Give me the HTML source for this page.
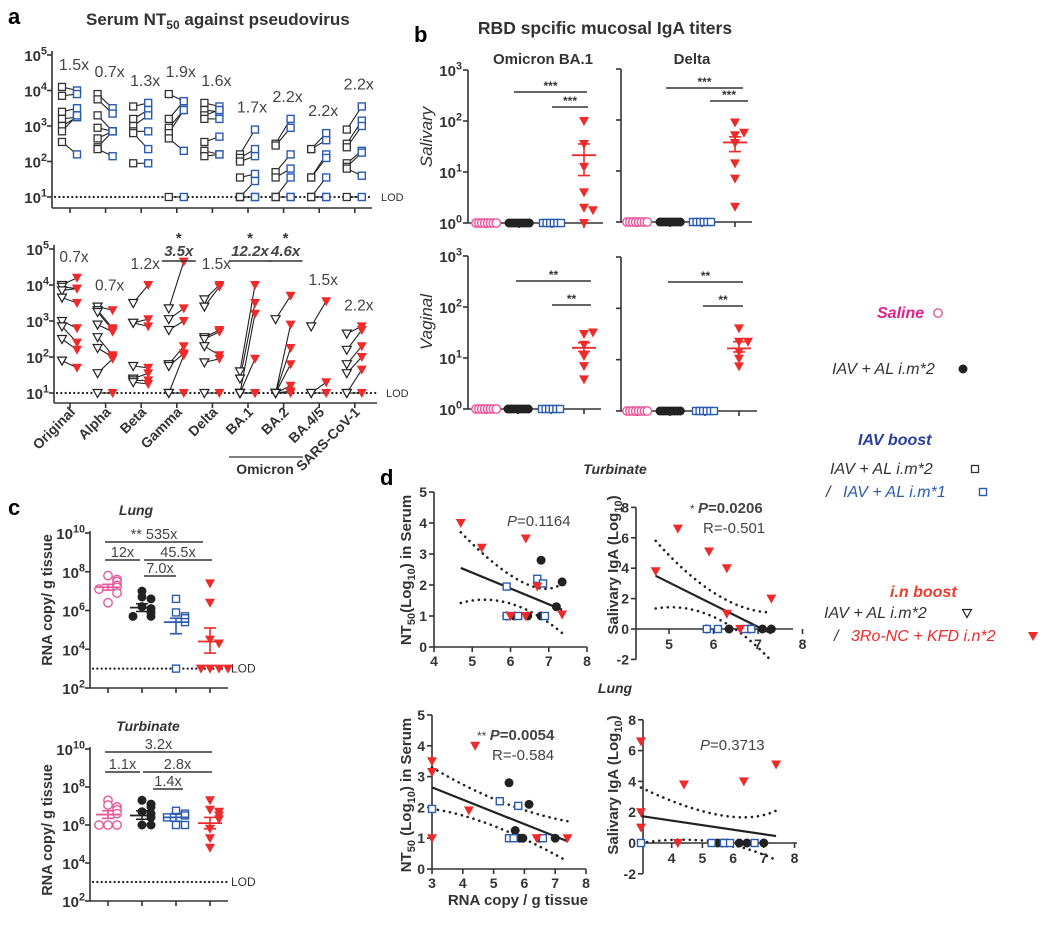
<!DOCTYPE html>
<html><head><meta charset="utf-8"><style>
html,body{margin:0;padding:0;background:#fff;}
svg{display:block;font-family:"Liberation Sans",sans-serif;}
</style></head><body>
<svg id="fig" width="1044" height="950" viewBox="0 0 1044 950" xmlns="http://www.w3.org/2000/svg">
<rect width="1044" height="950" fill="#fff"/>
</svg>
<script>
// ---------- DATA (log10 values) ----------
const aGroups = ['Original','Alpha','Beta','Gamma','Delta','BA.1','BA.2','BA.4/5','SARS-CoV-1'];
const aTopFold = ['1.5x','0.7x','1.3x','1.9x','1.6x','1.7x','2.2x','2.2x','2.2x'];
const aTopPre = [[4.1,3.85,3.4,3.2,3.0,2.85,2.55],[3.9,3.75,3.3,2.95,2.65,2.4,2.35],[3.55,3.2,3.0,2.85,2.8,1.95],[3.9,3.2,2.95,2.8,2.65,1],[3.65,3.45,3.3,3.2,2.55,2.3,2.15],[2.2,2.1,2.0,1.55,1,1,1],[2.5,2.45,1.7,1.55,1,1,1],[2.35,2.35,1.55,1.55,1,1,1],[2.9,2.5,2.4,1.95,1.85,1.8,1]];
const aTopPost = [[4.0,3.9,3.5,3.25,3.25,3.3,2.2],[3.5,3.35,2.85,2.85,2.85,2.85,2.15],[3.65,3.45,3.3,2.85,2.35,1.95],[3.7,3.7,3.45,3.45,2.3,1],[3.55,3.4,3.45,3.2,2.7,2.2,2.2],[2.9,2.35,2.15,1.65,1.45,1,1],[3.2,2.95,2.2,1.8,1.55,1,1],[2.8,2.6,2.2,2.1,1.55,1,1],[3.55,3.15,3.0,2.3,2.25,1.6,1]];
const aBotFold = ['0.7x','0.7x','1.2x','3.5x','1.5x','12.2x','4.6x','1.5x','2.2x'];
const aBotSig = [0,0,0,1,0,1,1,0,0];
const aBotPre = [[4.0,3.95,3.85,3.65,3.0,2.85,2.5,1.9],[3.4,3.3,3.25,2.9,2.55,2.25,1.55,1],[3.5,2.95,2.95,1.75,1.4,1.35,1.3],[3.35,3.05,2.75,1.8,1.75,1,1],[3.6,3.4,2.55,2.5,2.3,1.85,1],[1.6,1.4,1,1,1,1,1],[3.05,1,1,1,1,1,1],[2.85,1,1],[2.65,2.2,1.8,1.55,1,1]];
const aBotPost = [[4.2,3.9,3.9,3.5,2.8,2.4,2.2,1.7],[3.3,2.8,2.75,2.7,2.05,2.0,1.95,1],[4.0,3.05,2.85,1.7,1.55,1.35,1.25],[4.65,3.35,3.0,2.3,2.1,2.05,1],[4.0,3.95,2.75,2.7,2.05,1.95,1],[4.0,3.5,3.2,1.95,1,1,1],[3.7,2.9,2.25,1.8,1.2,1.05,1],[3.55,1.3,1],[2.85,2.75,2.3,2.0,1.65,1]];

const bSalBA1 = [2.0,1.55,1.1,0.6,0.3,0.25,0];
const bSalBA1Stats = [1.33,0.93,1.55];
const bSalDelta = [1.95,1.7,1.75,1.55,1.15,0.85,0.3];
const bSalDeltaStats = [1.56,1.38,1.67];
const bVagBA1 = [1.47,1.5,1.26,1.04,0.84,0.58];
const bVagBA1Stats = [1.2,1.13,1.3];
const bVagDelta = [1.61,1.35,1.35,1.16,1.02,0.87];
const bVagDeltaStats = [1.22,1.15,1.35];

const cLungPink = [7.8,7.6,7.5,7.3,7.2,7.1,6.9,6.4];
const cLungBlack = [7.0,6.7,6.6,6.2,6.1,5.9,5.7,5.7];
const cLungBlue = [6.6,5.9,5.7,5.6,5.4,3.0];
const cLungRed = [7.4,6.4,4.5,4.3,3,3,3,3];
const cLungStats = [[7.2,7.05,7.35],[6.15,5.95,6.35],[5.4,4.8,5.6],[4.4,3.8,5.1]];
const cTurbPink = [7.3,7.05,6.95,6.8,6.6,6.0,6.0,6.0];
const cTurbBlack = [7.3,7.1,6.95,6.7,6.6,6.4,6.0,6.0];
const cTurbBlue = [6.75,6.6,6.5,6.4,6.0,6.0];
const cTurbRed = [7.3,6.8,6.7,6.5,6.3,5.8,5.3,4.8];
const cTurbStats = [[6.55,6.35,6.75],[6.5,6.3,6.75],[6.4,6.2,6.6],[6.1,5.8,6.4]];

const dTurbSerumRed = [[4.7,4.0],[5.25,3.2],[6.4,3.5],[6.7,1.95],[7.35,1.05],[6.4,1.0],[6.0,1.0]];
const dTurbSerumBlack = [[6.8,2.8],[7.35,2.1],[7.2,1.3],[5.9,1.0],[6.1,1.0],[6.45,1.0],[6.8,1.0]];
const dTurbSerumBlue = [[5.9,1.95],[6.7,2.2],[6.85,2.05],[5.9,1.0],[6.2,1.0],[6.9,1.0]];
const dTurbSerumFit = [4.7,2.55,7.35,1.2];
const dTurbSerumCI = [[4.7,3.7],[6.3,2.1],[7.35,2.05],[4.7,1.42],[6.0,1.4],[7.35,0.45]];
const dTurbIgaRed = [[4.7,3.8],[5.2,6.6],[5.9,5.1],[6.3,4.0],[6.3,1.0],[6.6,0],[7.3,2.0]];
const dTurbIgaBlack = [[5.85,0],[6.35,0],[6.8,0],[7.1,0],[7.3,0]];
const dTurbIgaBlue = [[5.85,0],[6.1,0],[6.7,0],[6.85,0]];
const dTurbIgaFit = [4.7,3.5,7.3,-0.3];
const dTurbIgaCI = [[4.7,5.8],[6.0,2.4],[7.2,1.1],[4.7,1.35],[6.0,0.8],[7.3,-2.1]];
const dLungSerumRed = [[3,3.5],[3,3.15],[3,1.0],[4.4,4.0],[4.2,1.9],[6.4,1.0],[7.4,1.0]];
const dLungSerumBlack = [[5.5,2.8],[6.15,2.1],[5.7,1.25],[5.85,1.0],[5.95,1.0],[6.5,1.0],[7.0,1.0]];
const dLungSerumBlue = [[3,1.95],[5.2,2.2],[5.8,2.05],[5.5,1.0],[5.65,1.0],[6.6,1.0]];
const dLungSerumFit = [3,2.65,7.4,0.9];
const dLungSerumCI = [[3,3.3],[5.2,2.2],[7.4,1.55],[3,1.95],[5.0,1.4],[7.4,0.25]];
const dLungIgaRed = [[3,6.6],[3,2.0],[3,1.0],[4.4,3.8],[4.2,0],[6.35,4.0],[7.4,5.1]];
const dLungIgaBlack = [[5.5,0],[5.65,0],[5.8,0],[6.2,0],[6.45,0],[7.0,0]];
const dLungIgaBlue = [[3,0],[5.3,0],[5.7,0],[5.9,0],[6.7,0]];
const dLungIgaFit = [3,1.75,7.4,0.45];
const dLungIgaCI = [[3,3.6],[5.6,1.8],[7.4,2.1],[3,0],[5.3,0.1],[7.4,-1.1]];

// ---------- HELPERS ----------
const NS='http://www.w3.org/2000/svg';
const S=document.getElementById('fig');
const FF='"Liberation Sans", sans-serif';
const PINK='#e8579c', BLUE='#2a5bb0', RED='#ee2a2a', BLK='#222', GR='#333';
function add(tag, at, name){
  const e=document.createElementNS(NS,tag);
  for(const k in at) e.setAttribute(k,at[k]);
  
  
  S.appendChild(e); return e;
}
function line(x1,y1,x2,y2,name,st){return add('line',Object.assign({x1,y1,x2,y2,stroke:GR,'stroke-width':1.6},st||{}),name);}
function dotted(x1,y1,x2,y2,name){return line(x1,y1,x2,y2,name,{stroke:'#222','stroke-width':2.2,'stroke-dasharray':'0.1,4.2','stroke-linecap':'round'});}
function txt(x,y,s,name,st){const e=add('text',Object.assign({x,y,'font-family':FF,'font-size':13,fill:GR},st||{}),name);e.textContent=s;return e;}
function pow(x,y,b,p,name,fs){const t=add('text',{x,y,'text-anchor':'end','font-family':FF,'font-size':fs,'font-weight':'bold',fill:GR},name);t.innerHTML=b+'<tspan dy="-'+(fs*0.42)+'" font-size="'+(fs*0.72)+'">'+p+'</tspan>';return t;}
function mark(type,x,y,name){
  if(type==='sq') return add('rect',{x:x-3.5,y:y-3.5,width:7,height:7,fill:'#fff',stroke:'#333','stroke-width':1.3},name);
  if(type==='bsq') return add('rect',{x:x-3.5,y:y-3.5,width:7,height:7,fill:'#fff',stroke:BLUE,'stroke-width':1.4},name);
  if(type==='tri') return add('polygon',{points:`${x-4.5},${y-3.5} ${x+4.5},${y-3.5} ${x},${y+4.5}`,fill:'#fff',stroke:'#222','stroke-width':1.2},name);
  if(type==='ftri') return add('polygon',{points:`${x-5},${y-4} ${x+5},${y-4} ${x},${y+5}`,fill:RED},name);
  if(type==='oc') return add('circle',{cx:x,cy:y,r:4.2,fill:'#fff',stroke:PINK,'stroke-width':1.4},name);
  if(type==='fc') return add('circle',{cx:x,cy:y,r:4.5,fill:'#222'},name);
}
function jitter(vals,thr,step){
  return vals.map((v,i)=>{let c=0;for(let j=0;j<i;j++) if(Math.abs(vals[j]-v)<thr) c++;
    return c===0?0:(c%2?1:-1)*Math.ceil(c/2)*step;});
}
function errbar(x,Y,st,color,name,w){
  line(x-w,Y(st[0]),x+w,Y(st[0]),name+'-mean',{stroke:color,'stroke-width':1.8});
  line(x,Y(st[1]),x,Y(st[2]),name+'-err',{stroke:color,'stroke-width':1.6});
  line(x-6,Y(st[1]),x+6,Y(st[1]),name+'-err-lo',{stroke:color,'stroke-width':1.6});
  line(x-6,Y(st[2]),x+6,Y(st[2]),name+'-err-hi',{stroke:color,'stroke-width':1.6});
}

// ---------- PANEL A ----------
txt(8,24,'a','panel-a-label',{'font-size':22,'font-weight':'bold',fill:'#000'});
{const t=add('text',{x:86,y:25,'font-family':FF,'font-size':17,'font-weight':'bold',fill:GR},'panel-a-title');
 t.innerHTML='Serum NT<tspan dy="4" font-size="12">50</tspan><tspan dy="-4">  against pseudovirus</tspan>';}
const aX = g => 70 + g*35.6;
function aPanel(Y, axX, yTop, yBot, xEnd, pre, post, preT, postT, nm){
  line(axX,yTop-4,axX,yBot,nm+'-y-axis');
  line(axX,yBot,xEnd,yBot,nm+'-x-axis');
  for(let k=1;k<=5;k++){line(axX-5,Y(k),axX,Y(k),nm+'-y-tick');pow(axX-5,Y(k)+6,'10',k,nm+'-y-tick-label',15);}
  aGroups.forEach((g,i)=>line(aX(i),yBot,aX(i),yBot+5,nm+'-x-tick'));
  dotted(axX+3,Y(1),xEnd,Y(1),nm+'-lod-line');
  txt(xEnd+9,Y(1)+4,'LOD',nm+'-lod-label',{'font-size':11});
  pre.forEach((arr,i)=>{arr.forEach((v,j)=>{
    const x1=aX(i)-8,x2=aX(i)+7;
    line(x1,Y(v),x2,Y(post[i][j]),nm+'-pair-line',{stroke:'#222','stroke-width':1.1});
  });});
  pre.forEach((arr,i)=>{arr.forEach(v=>mark(preT,aX(i)-8,Y(v),nm+'-pre-point'));post[i].forEach(v=>mark(postT,aX(i)+7,Y(v),nm+'-post-point'));});
}
const YA1 = v => 197-(v-1)*35.5;
aPanel(YA1,52,55,208,372,aTopPre,aTopPost,'sq','bsq','panel-a-top');
aTopFold.forEach((f,i)=>{const m=Math.max(...aTopPre[i],...aTopPost[i]);
  txt(aX(i)+4,YA1(m)-17,f,'fold-label-top',{'text-anchor':'middle','font-size':16,fill:'#444'});});
const YA2 = v => 393-(v-1)*36;
aPanel(YA2,54,249,403,377,aBotPre,aBotPost,'tri','ftri','panel-a-bottom');
aBotFold.forEach((f,i)=>{const m=Math.max(...aBotPre[i],...aBotPost[i]);
  if(aBotSig[i]){
    const y=256; const w=f.length*8.5;
    txt(aX(i)+2,y,f,'fold-label-significant',{'text-anchor':'middle','font-size':15,'font-weight':'bold','font-style':'italic',fill:'#444'});
    line(aX(i)+2-w/2,y+5,aX(i)+2+w/2,y+5,'fold-underline',{'stroke-width':1.4});
    txt(aX(i)+2,y-13,'*','significance-star',{'text-anchor':'middle','font-size':15,'font-weight':'bold'});
  } else txt(aX(i)+4,YA2(m)-16,f,'fold-label-bottom',{'text-anchor':'middle','font-size':15.5,fill:'#444'});
});
aGroups.forEach((g,i)=>{const x=aX(i)+6,y=413;
  const t=txt(x,y,g,'x-label-'+g.toLowerCase().replace(/[^a-z0-9]+/g,'-'),{'text-anchor':'end','font-size':14,'font-weight':'bold'});
  t.setAttribute('transform',`rotate(-45 ${x} ${y})`);});
line(229,457,303,457,'omicron-bracket',{'stroke-width':1.3});
txt(265,474,'Omicron','omicron-label',{'text-anchor':'middle','font-size':14,'font-weight':'bold'});

// ---------- PANEL B ----------
txt(414,42,'b','panel-b-label',{'font-size':22,'font-weight':'bold',fill:'#000'});
txt(605,34,'RBD spcific mucosal IgA titers','panel-b-title',{'text-anchor':'middle','font-size':17.5,'font-weight':'bold'});
txt(543,64,'Omicron BA.1','col-title-ba1',{'text-anchor':'middle','font-size':15,'font-weight':'bold'});
txt(692,64,'Delta','col-title-delta',{'text-anchor':'middle','font-size':15,'font-weight':'bold'});
function bPanel(cfg, red, st, nm){
  const Y=v=>cfg.y0-(v)*(cfg.y0-cfg.y3)/3;
  line(cfg.ax,cfg.y3,cfg.ax,cfg.y0,nm+'-y-axis');
  line(cfg.ax,cfg.y0,cfg.xe,cfg.y0,nm+'-x-axis');
  for(let k=0;k<=3;k++){line(cfg.ax-5,Y(k),cfg.ax,Y(k),nm+'-y-tick'); if(cfg.labels) pow(cfg.ax-6,Y(k)+6,'10',k,nm+'-y-tick-label',15);}
  cfg.g.forEach(x=>line(x,cfg.y0,x,cfg.y0+5,nm+'-x-tick'));
  for(let i=0;i<8;i++){mark('oc',cfg.g[0]-10+i*2.9,Y(0),nm+'-saline-point');}
  for(let i=0;i<8;i++){mark('fc',cfg.g[1]-10+i*2.9,Y(0),nm+'-iav-point');}
  for(let i=0;i<6;i++){mark('bsq',cfg.g[2]-9+i*3.6,Y(0),nm+'-iav-boost-point');}
  const jt=jitter(red,0.12,9);
  red.forEach((v,i)=>mark('ftri',cfg.g[3]+jt[i],Y(v),nm+'-in-boost-point'));
  errbar(cfg.g[3],Y,st,RED,nm+'-in-boost',12);
  cfg.bars.forEach(b=>{line(b[0],b[2],b[1],b[2],nm+'-sig-bar',{'stroke-width':1.4});
    txt((b[0]+b[1])/2,b[2]-2,b[3],nm+'-sig-stars',{'text-anchor':'middle','font-size':12,'font-weight':'bold'});});
}
bPanel({ax:468,y3:70,y0:223,xe:603,g:[486,519,552,584],labels:1,bars:[[514,587,92,'***'],[552,588,107,'***']]},bSalBA1,bSalBA1Stats,'salivary-ba1');
bPanel({ax:621,y3:69,y0:222,xe:752,g:[637,670,702,735],labels:0,bars:[[666,743,88,'***'],[710,748,101,'***']]},bSalDelta,bSalDeltaStats,'salivary-delta');
bPanel({ax:468,y3:256,y0:409,xe:601,g:[486,518,551,584],labels:1,bars:[[516,591,281,'**'],[552,591,305,'**']]},bVagBA1,bVagBA1Stats,'vaginal-ba1');
bPanel({ax:621,y3:257,y0:411,xe:757,g:[637,670,705,739],labels:0,bars:[[668,743,282,'**'],[703,743,306,'**']]},bVagDelta,bVagDeltaStats,'vaginal-delta');
{const t=txt(432,137,'Salivary','y-label-salivary',{'text-anchor':'middle','font-size':17,'font-style':'italic'});t.setAttribute('transform','rotate(-90 432 137)');}
{const t=txt(432,322,'Vaginal','y-label-vaginal',{'text-anchor':'middle','font-size':17,'font-style':'italic'});t.setAttribute('transform','rotate(-90 432 322)');}

// ---------- PANEL C ----------
txt(8,515,'c','panel-c-label',{'font-size':22,'font-weight':'bold',fill:'#000'});
function cPanel(cfg, sets, stats, nm){
  const dec=(cfg.y2-cfg.y10)/8; const Y=v=>cfg.y2-(v-2)*dec;
  txt(cfg.tx,cfg.y10-18,cfg.title,nm+'-title',{'text-anchor':'middle','font-size':14,'font-weight':'bold','font-style':'italic'});
  line(90,cfg.y10-2,90,cfg.y2,nm+'-y-axis'); line(90,cfg.y2,228,cfg.y2,nm+'-x-axis');
  [2,4,6,8,10].forEach(k=>{line(85,Y(k),90,Y(k),nm+'-y-tick');pow(85,Y(k)+6,'10',k,nm+'-y-tick-label',15);});
  const gx=[108,142,176,210];
  gx.forEach(x=>line(x,cfg.y2,x,cfg.y2+5,nm+'-x-tick'));
  dotted(93,Y(3),228,Y(3),nm+'-lod-line'); txt(231,Y(3)+4,'LOD',nm+'-lod-label',{'font-size':12});
  const types=['oc','fc','bsq','ftri'], cols=[PINK,'#222',BLUE,RED];
  sets.forEach((vals,g)=>{const jt=jitter(vals,0.25,9);
    vals.forEach((v,i)=>mark(types[g],gx[g]+jt[i],Y(v),nm+'-point-group'+(g+1)));
    errbar(gx[g],Y,stats[g],cols[g],nm+'-group'+(g+1),12);});
  cfg.bars.forEach(b=>{line(b[0],b[2],b[1],b[2],nm+'-bracket',{'stroke-width':1.4});
    txt((b[0]+b[1])/2,b[2]-3,b[3],nm+'-fold-label',{'text-anchor':'middle','font-size':14.5,fill:'#444'});});
  const t=txt(52,cfg.yl,'RNA copy/ g tissue',nm+'-y-label',{'text-anchor':'middle','font-size':14.5,'font-weight':'bold'});
  t.setAttribute('transform',`rotate(-90 52 ${cfg.yl})`);
}
cPanel({y10:533,y2:688,tx:136,title:'Lung',yl:600,bars:[[105,203,542,'** 535x'],[105,140,560,'12x'],[144,212,560,'45.5x'],[144,176,576,'7.0x']]},
  [cLungPink,cLungBlack,cLungBlue,cLungRed],cLungStats,'lung');
cPanel({y10:749,y2:901,tx:148,title:'Turbinate',yl:830,bars:[[105,212,752,'3.2x'],[105,140,772,'1.1x'],[143,212,772,'2.8x'],[153,183,789,'1.4x']]},
  [cTurbPink,cTurbBlack,cTurbBlue,cTurbRed],cTurbStats,'turbinate');

// ---------- PANEL D ----------
txt(380,485,'d','panel-d-label',{'font-size':22,'font-weight':'bold',fill:'#000'});
txt(615,474,'Turbinate','d-turbinate-title',{'text-anchor':'middle','font-size':14,'font-weight':'bold','font-style':'italic'});
txt(615,693,'Lung','d-lung-title',{'text-anchor':'middle','font-size':14,'font-weight':'bold','font-style':'italic'});
function dPanel(c, red, blk, blu, fit, ci, nm){
  const X=v=>c.x0+(v-c.vx0)*c.sx, Y=v=>c.y0-(v)*c.sy;
  line(c.ax,Y(c.ymax),c.ax,Y(c.ymin),nm+'-y-axis'); line(c.ax,Y(0),c.xe,Y(0),nm+'-x-axis');
  for(let v=c.ymin;v<=c.ymax;v+=c.ystep){line(c.ax-5,Y(v),c.ax,Y(v),nm+'-y-tick');
    txt(c.ax-7,Y(v)+5,String(v),nm+'-y-tick-label',{'text-anchor':'end','font-size':14,'font-weight':'bold'});}
  c.xt.forEach(v=>{line(X(v),Y(0),X(v),Y(0)+5,nm+'-x-tick');
    txt(X(v),Y(0)+c.xly,String(v),nm+'-x-tick-label',{'text-anchor':'middle','font-size':14,'font-weight':'bold'});});
  for(let k=0;k<2;k++){const p=ci.slice(k*3,k*3+3).map(q=>[X(q[0]),Y(q[1])]);
    const cx=2*p[1][0]-(p[0][0]+p[2][0])/2, cy=2*p[1][1]-(p[0][1]+p[2][1])/2;
    add('path',{d:`M${p[0][0]},${p[0][1]} Q${cx},${cy} ${p[2][0]},${p[2][1]}`,fill:'none',stroke:'#222','stroke-width':2.6,'stroke-dasharray':'0.1,6','stroke-linecap':'round'},nm+'-ci-band');}
  line(X(fit[0]),Y(fit[1]),X(fit[2]),Y(fit[3]),nm+'-fit-line',{stroke:'#222','stroke-width':2.2});
  blk.forEach(p=>mark('fc',X(p[0]),Y(p[1]),nm+'-iav-point'));
  blu.forEach(p=>mark('bsq',X(p[0]),Y(p[1]),nm+'-iav-boost-point'));
  red.forEach(p=>mark('ftri',X(p[0]),Y(p[1]),nm+'-in-boost-point'));
}
dPanel({x0:434,vx0:4,sx:38.25,y0:647,sy:31,ax:434,xe:587,ymin:0,ymax:5,ystep:1,xt:[4,5,6,7,8],xly:19},dTurbSerumRed,dTurbSerumBlack,dTurbSerumBlue,dTurbSerumFit,dTurbSerumCI,'d-turbinate-serum');
dPanel({x0:669,vx0:5,sx:44.5,y0:629,sy:15.2,ax:636,xe:793,ymin:-2,ymax:8,ystep:2,xt:[5,6,7,8],xly:20},dTurbIgaRed,dTurbIgaBlack,dTurbIgaBlue,dTurbIgaFit,dTurbIgaCI,'d-turbinate-iga');
dPanel({x0:432,vx0:3,sx:30.8,y0:869,sy:30.8,ax:432,xe:586,ymin:0,ymax:5,ystep:1,xt:[3,4,5,6,7,8],xly:19},dLungSerumRed,dLungSerumBlack,dLungSerumBlue,dLungSerumFit,dLungSerumCI,'d-lung-serum');
dPanel({x0:641,vx0:3,sx:30.7,y0:843,sy:15.4,ax:643,xe:797,ymin:-2,ymax:8,ystep:2,xt:[4,5,6,7,8],xly:20},dLungIgaRed,dLungIgaBlack,dLungIgaBlue,dLungIgaFit,dLungIgaCI,'d-lung-iga');
function stat(x,y,html,nm){const t=add('text',{x,y,'font-family':FF,'font-size':15,fill:'#444'},nm);t.innerHTML=html;}
stat(507,526,'<tspan font-style="italic">P</tspan>=0.1164','p-value-turbinate-serum');
stat(690,513,'<tspan font-size="12">* </tspan><tspan font-weight="bold"><tspan font-style="italic">P</tspan>=0.0206</tspan>','p-value-turbinate-iga');
stat(703,533,'R=-0.501','r-value-turbinate-iga');
stat(477,740,'<tspan font-size="12">** </tspan><tspan font-weight="bold"><tspan font-style="italic">P</tspan>=0.0054</tspan>','p-value-lung-serum');
stat(492,760,'R=-0.584','r-value-lung-serum');
stat(700,750,'<tspan font-style="italic">P</tspan>=0.3713','p-value-lung-iga');
function ylab(x,y,html,nm){const t=add('text',{x,y,'text-anchor':'middle','font-family':FF,'font-size':15,'font-weight':'bold',fill:GR,transform:`rotate(-90 ${x} ${y})`},nm);t.innerHTML=html;}
ylab(411,570,'NT<tspan dy="4" font-size="11">50</tspan><tspan dy="-4">(Log</tspan><tspan dy="4" font-size="11">10</tspan><tspan dy="-4">)  in Serum</tspan>','y-label-turbinate-serum');
ylab(618,565,'Salivary IgA (Log<tspan dy="4" font-size="11">10</tspan><tspan dy="-4">)</tspan>','y-label-turbinate-iga');
ylab(411,795,'NT<tspan dy="4" font-size="11">50</tspan><tspan dy="-4">  (Log</tspan><tspan dy="4" font-size="11">10</tspan><tspan dy="-4">)  in Serum</tspan>','y-label-lung-serum');
ylab(618,785,'Salivary IgA (Log<tspan dy="4" font-size="11">10</tspan><tspan dy="-4">)</tspan>','y-label-lung-iga');
txt(518,905,'RNA copy / g tissue','x-label-rna-copy',{'text-anchor':'middle','font-size':15,'font-weight':'bold'});

// ---------- LEGEND ----------
const LG={'font-size':16,'font-style':'italic',fill:'#333'};
txt(877,318,'Saline','legend-saline',Object.assign({},LG,{fill:'#e0208a','font-weight':'bold'}));
mark('oc',938,313,'legend-saline-marker');
txt(832,374,'IAV + AL i.m*2','legend-iav-im2',LG);
mark('fc',963,369,'legend-iav-im2-marker');
txt(858,445,'IAV boost','legend-iav-boost-title',Object.assign({},LG,{fill:'#2a3f9a','font-weight':'bold'}));
txt(830,474,'IAV + AL i.m*2','legend-iav-boost-prime',LG);
mark('sq',975,469,'legend-iav-boost-prime-marker');
txt(826,497,'/  ','legend-slash-1',LG);
txt(843,497,'IAV + AL i.m*1','legend-iav-boost-im1',Object.assign({},LG,{fill:BLUE}));
mark('bsq',983,492,'legend-iav-boost-im1-marker');
txt(890,597,'i.n boost','legend-in-boost-title',Object.assign({},LG,{fill:'#ee3b2b','font-weight':'bold'}));
txt(824,618,'IAV + AL i.m*2','legend-in-boost-prime',LG);
mark('tri',967,613,'legend-in-boost-prime-marker');
txt(834,641,'/','legend-slash-2',LG);
txt(851,641,'3Ro-NC + KFD i.n*2','legend-in-boost-intranasal',Object.assign({},LG,{fill:RED}));
mark('ftri',1033,636,'legend-in-boost-intranasal-marker');
</script>
</body></html>
